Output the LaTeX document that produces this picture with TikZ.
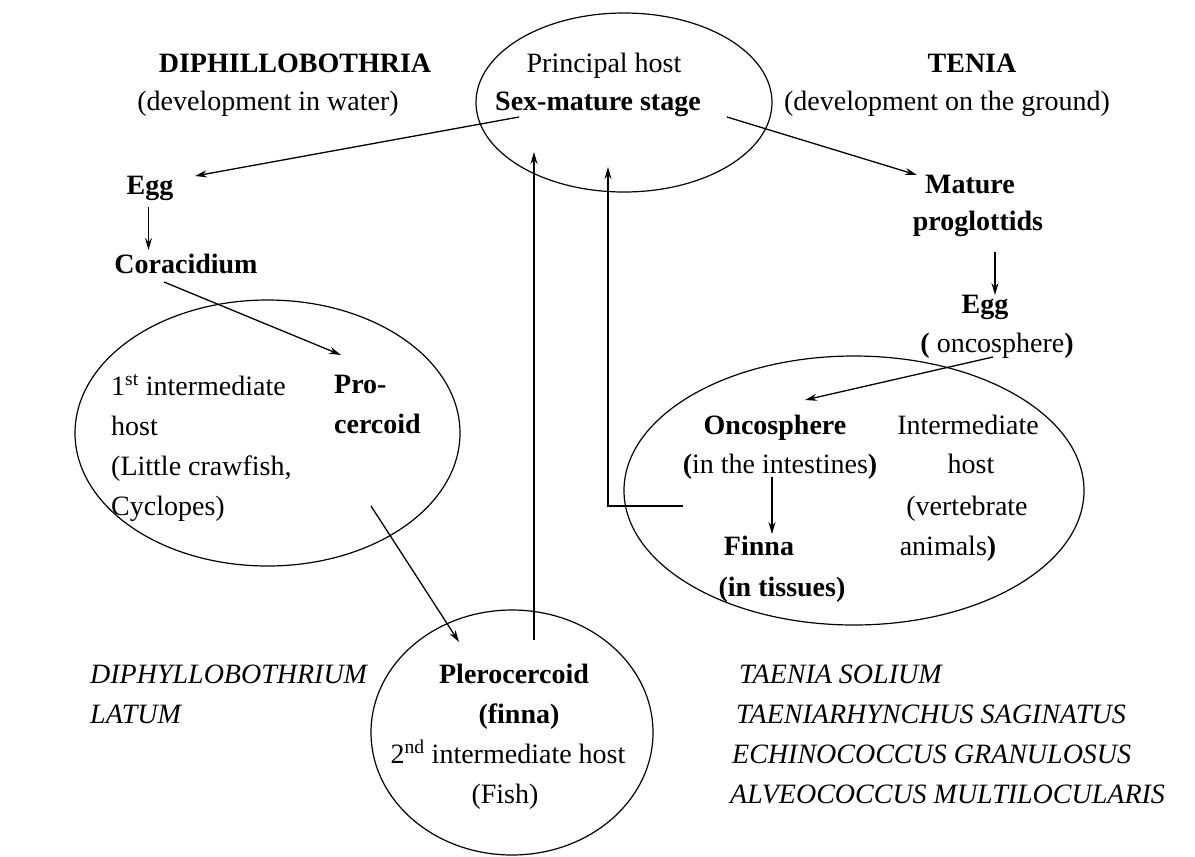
\documentclass[tikz,border=0pt]{standalone}
\usepackage{fontspec}
\setmainfont{Liberation Serif}
\usetikzlibrary{arrows.meta,shapes.geometric}
\begin{document}
\begin{tikzpicture}[x=1pt,y=-1pt,
  font=\fontsize{28}{40}\selectfont,
  txt/.style={inner sep=0pt,anchor=base},
  ltxt/.style={inner sep=0pt,anchor=base west},
  host/.style={draw,ellipse,line width=1.2pt,inner sep=0pt},
  conn/.style={line width=1.3pt},
  arr/.style={conn,-{Stealth[length=12pt,width=7pt,inset=4pt]}}]
\useasboundingbox (0,0) rectangle (1195,857);
\fill[white] (0,0) rectangle (1195,857);

% ellipses
\node[host,minimum width=296pt,minimum height=179pt] (topE) at (624,102.5) {};
\node[host,minimum width=385pt,minimum height=266pt] (firstE) at (267.5,433) {};
\node[host,minimum width=282pt,minimum height=245pt] (secE) at (512,732.5) {};
\node[host,minimum width=460pt,minimum height=269pt] (vertE) at (854,490.5) {};

% top texts
\node[txt,font=\fontsize{28}{40}\selectfont\bfseries] (diph) at (295,72) {DIPHILLOBOTHRIA};
\node[txt] (water) at (268,110) {(development in water)};
\node[txt] (princ) at (604,72) {Principal host};
\node[txt,font=\fontsize{28}{40}\selectfont\bfseries] (sexm) at (598,110) {Sex-mature stage};
\node[txt,font=\fontsize{28}{40}\selectfont\bfseries] (tenia) at (972,72) {TENIA};
\node[txt] (ground) at (947,110) {(development on the ground)};

% left branch
\node[txt,font=\fontsize{28}{40}\selectfont\bfseries] (egg1) at (150,194) {Egg};
\node[txt,font=\fontsize{28}{40}\selectfont\bfseries] (cora) at (186,273) {Coracidium};
\node[ltxt] (fi1) at (111,395) {1\textsuperscript{st} intermediate};
\node[ltxt] (fi2) at (111,435) {host};
\node[ltxt] (fi3) at (111,475) {(Little crawfish,};
\node[ltxt] (fi4) at (111,515) {Cyclopes)};
\node[ltxt,font=\fontsize{28}{40}\selectfont\bfseries] (pro1) at (334,393) {Pro-};
\node[ltxt,font=\fontsize{28}{40}\selectfont\bfseries] (pro2) at (334,433) {cercoid};

\node[txt,font=\fontsize{28}{40}\selectfont\bfseries] (pler) at (514,683) {Plerocercoid};
\node[txt,font=\fontsize{28}{40}\selectfont\bfseries] (finna1) at (519,723) {(finna)};
\node[txt] (sec) at (508,763) {2\textsuperscript{nd} intermediate host};
\node[txt] (fish) at (505,803) {(Fish)};

\node[ltxt,font=\fontsize{28}{40}\selectfont\itshape] (dlat1) at (90,683) {DIPHYLLOBOTHRIUM};
\node[ltxt,font=\fontsize{28}{40}\selectfont\itshape] (dlat2) at (90,723) {LATUM};

% right branch
\node[txt,font=\fontsize{28}{40}\selectfont\bfseries] (mat1) at (970,193) {Mature};
\node[txt,font=\fontsize{28}{40}\selectfont\bfseries] (mat2) at (978,230) {proglottids};
\node[txt,font=\fontsize{28}{40}\selectfont\bfseries] (egg2) at (985,313) {Egg};
\node[txt] (onc0) at (997,352) {\textbf{(} oncosphere\textbf{)}};
\node[txt,font=\fontsize{28}{40}\selectfont\bfseries] (onc1) at (775,434) {Oncosphere};
\node[txt] (onc2) at (780,473) {\textbf{(}in the intestines\textbf{)}};
\node[txt,font=\fontsize{28}{40}\selectfont\bfseries] (fin1) at (759,555) {Finna};
\node[txt,font=\fontsize{28}{40}\selectfont\bfseries] (fin2) at (782,596) {(in tissues)};
\node[txt] (ih1) at (968,434) {Intermediate};
\node[txt] (ih2) at (971,473) {host};
\node[txt] (ih3) at (967,515) {(vertebrate};
\node[txt] (ih4) at (948,555) {animals\textbf{)}};

\node[ltxt,font=\fontsize{28}{40}\selectfont\itshape] (t1) at (739,683) {TAENIA SOLIUM};
\node[ltxt,font=\fontsize{28}{40}\selectfont\itshape] (t2) at (736,723) {TAENIARHYNCHUS SAGINATUS};
\node[ltxt,font=\fontsize{28}{40}\selectfont\itshape] (t3) at (732,763) {ECHINOCOCCUS GRANULOSUS};
\node[ltxt,font=\fontsize{28}{40}\selectfont\itshape] (t4) at (730,803) {ALVEOCOCCUS MULTILOCULARIS};

% connector end points
\coordinate (sL) at (519,117);  \coordinate (eL) at (195,176);
\coordinate (sR) at (727,117);  \coordinate (eR) at (917,175);
\coordinate (e1a) at (148.5,207); \coordinate (e1b) at (148.5,250);
\coordinate (c1) at (164,282); \coordinate (c2) at (341,355);
\coordinate (p1) at (371,506); \coordinate (p2) at (459,642);
\coordinate (v1) at (534,640); \coordinate (v2) at (534,152);
\coordinate (m1) at (995,252); \coordinate (m2) at (995,295);
\coordinate (o1) at (993,357); \coordinate (o2) at (805,400);
\coordinate (f1) at (772,477); \coordinate (f2) at (772,534);
\coordinate (h1) at (683,506); \coordinate (h2) at (608,506); \coordinate (h3) at (608,167);

\draw[arr] (sL) -- (eL);
\draw[arr] (sR) -- (eR);
\draw[arr] (e1a) -- (e1b);
\draw[arr] (c1) -- (c2);
\draw[arr] (p1) -- (p2);
\draw[arr] (v1) -- (v2);
\draw[arr] (m1) -- (m2);
\draw[arr] (o1) -- (o2);
\draw[arr] (f1) -- (f2);
\draw[arr] (h1) -- (h2) -- (h3);
\end{tikzpicture}
\end{document}
